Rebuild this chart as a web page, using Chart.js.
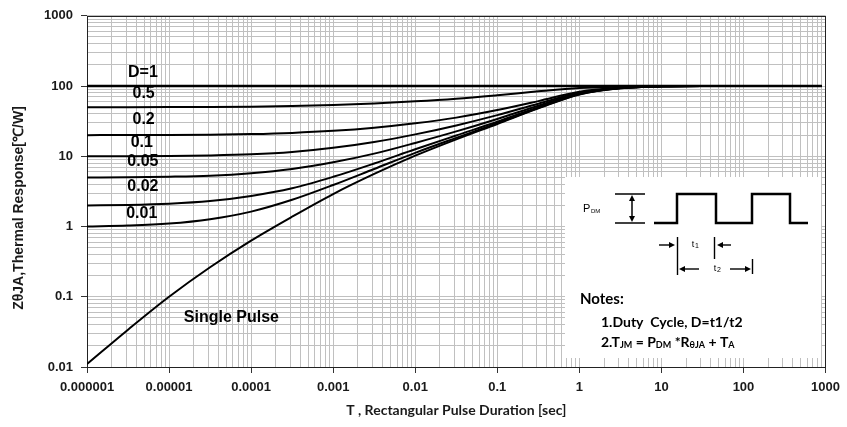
<!DOCTYPE html>
<html><head><meta charset="utf-8">
<script src="https://cdn.jsdelivr.net/npm/chart.js@4.4.0/dist/chart.umd.min.js"></script>
<style>html,body{margin:0;padding:0;background:#fff}</style>
</head><body>
<canvas id="c" width="847" height="427"></canvas>
<script>
// ---------- data ----------
const pulseDurations = [1e-6, 3.16e-6, 1e-5, 3.16e-5, 1e-4, 3.16e-4, 1e-3, 3.16e-3, 1e-2, 3.16e-2, 0.1, 0.316, 1, 3.16, 10, 31.6, 100, 316, 900];
const zD1     = [100, 100, 100, 100, 100, 100, 100, 100, 100, 100, 100, 100, 100, 100, 100, 100, 100, 100, 100];
const zD05    = [50, 50, 50.1, 50.3, 50.8, 51.8, 53.5, 56.5, 60.5, 66, 74, 84, 93.5, 98, 99.7, 100, 100, 100, 100];
const zD02    = [20, 20.03, 20.1, 20.3, 20.7, 21.5, 23, 25.5, 29.5, 35.5, 45.5, 61, 83, 95, 99.3, 100, 100, 100, 100];
const zD01    = [10, 10.03, 10.1, 10.27, 10.65, 11.5, 13.2, 16, 20.5, 27.5, 38.5, 56, 80, 94, 99.2, 100, 100, 100, 100];
const zD005   = [5, 5.03, 5.12, 5.3, 5.75, 6.6, 8.2, 10.9, 15.5, 22.6, 34, 52.5, 78.5, 93.8, 99, 100, 100, 100, 100];
const zD002   = [2, 2.03, 2.11, 2.3, 2.72, 3.5, 5.1, 7.9, 12.6, 19.8, 31, 50, 77.5, 93.5, 99, 100, 100, 100, 100];
const zD001   = [1, 1.03, 1.1, 1.27, 1.63, 2.4, 3.9, 6.6, 11.2, 18.3, 29.6, 48.7, 76.5, 93.1, 99, 100, 100, 100, 100];
const zSingle = [0.011, 0.034, 0.1, 0.263, 0.63, 1.38, 2.9, 5.6, 10.2, 17.4, 28.8, 48, 76, 93, 99, 100, 100, 100, 100];
const seriesNames = ['D=1', '0.5', '0.2', '0.1', '0.05', '0.02', '0.01', 'Single Pulse'];
const seriesValues = [zD1, zD05, zD02, zD01, zD005, zD002, zD001, zSingle];
const xTickLabels = ['0.000001', '0.00001', '0.0001', '0.001', '0.01', '0.1', '1', '10', '100', '1000'];
const yTickLabels = ['0.01', '0.1', '1', '10', '100', '1000'];
const xTitle = 'T , Rectangular Pulse Duration [sec]';
const yTitle = 'Z\u03B8JA,Thermal Response[\u2103/W]';

// ---------- helpers ----------
const X_MIN_EXP = -6, X_MAX_EXP = 3, Y_MIN_EXP = -2, Y_MAX_EXP = 3;
function logTicks(a, b) {
  const t = [];
  for (let e = a; e < b; e++) for (let m = 1; m < 10; m++) t.push({ value: Number((m * Math.pow(10, e)).toPrecision(6)) });
  t.push({ value: Math.pow(10, b) });
  return t;
}
function decadeIndex(v, minExp) {
  const e = Math.log10(v), r = Math.round(e);
  return Math.abs(e - r) < 1e-6 ? r - minExp : -1;
}
const ARIAL = "'Liberation Sans', Arial, sans-serif";
const CALIBRI = "Lato, 'Open Sans', sans-serif";

const datasets = seriesNames.map((name, i) => ({
  label: name,
  data: pulseDurations.map((t, k) => ({ x: t, y: seriesValues[i][k] })),
  borderColor: '#000',
  borderWidth: i === 0 ? 2.6 : 2,
  pointRadius: 0,
  fill: false,
  cubicInterpolationMode: 'monotone'
}));

function arrowHead(ctx, x, y, dir) {
  ctx.beginPath();
  const L = 6, W = 3;
  if (dir === 'r') { ctx.moveTo(x, y); ctx.lineTo(x - L, y - W); ctx.lineTo(x - L, y + W); }
  if (dir === 'l') { ctx.moveTo(x, y); ctx.lineTo(x + L, y - W); ctx.lineTo(x + L, y + W); }
  if (dir === 'u') { ctx.moveTo(x, y); ctx.lineTo(x - W, y + L); ctx.lineTo(x + W, y + L); }
  if (dir === 'd') { ctx.moveTo(x, y); ctx.lineTo(x - W, y - L); ctx.lineTo(x + W, y - L); }
  ctx.closePath(); ctx.fill();
}
function line(ctx, pts) {
  ctx.beginPath(); ctx.moveTo(pts[0][0], pts[0][1]);
  for (let i = 1; i < pts.length; i++) ctx.lineTo(pts[i][0], pts[i][1]);
  ctx.stroke();
}
function rich(ctx, parts, x, y, size) {
  let cx = x;
  parts.forEach(([txt, sub]) => {
    ctx.font = 'bold ' + (sub ? Math.round(size * 0.65) : size) + 'px ' + CALIBRI;
    ctx.fillText(txt, cx, sub ? y + 3 : y);
    cx += ctx.measureText(txt).width;
  });
}

const annotations = {
  id: 'annotations',
  beforeDatasetsDraw(chart) {
    const { ctx, chartArea: ca } = chart;
    ctx.save();
    const bx = Math.round(ca.right) - 261, by = Math.round(ca.top) + 161;
    const bw = 256, bh = Math.round(ca.bottom) - 9 - by;
    ctx.fillStyle = '#fff';
    ctx.fillRect(bx, by, bw, bh);
    ctx.strokeStyle = '#222'; ctx.lineWidth = 1;
    ctx.strokeRect(Math.round(ca.left) + 0.5, Math.round(ca.top) + 0.5, Math.round(ca.right - ca.left) - 1, Math.round(ca.bottom - ca.top));

    ctx.strokeStyle = '#000'; ctx.fillStyle = '#000';
    ctx.lineWidth = 1.5;
    line(ctx, [[bx + 50, by + 17], [bx + 80, by + 17]]);
    line(ctx, [[bx + 50, by + 46], [bx + 80, by + 46]]);
    line(ctx, [[bx + 67, by + 20], [bx + 67, by + 43]]);
    arrowHead(ctx, bx + 67, by + 18, 'u');
    arrowHead(ctx, bx + 67, by + 45, 'd');
    ctx.textBaseline = 'middle'; ctx.textAlign = 'left';
    ctx.font = '11px ' + ARIAL;
    ctx.fillText('P', bx + 18, by + 32);
    ctx.font = '6px ' + ARIAL;
    ctx.fillText('DM', bx + 26, by + 34);
    ctx.lineWidth = 2.5;
    line(ctx, [[bx + 89, by + 46], [bx + 112, by + 46], [bx + 112, by + 17], [bx + 151, by + 17], [bx + 151, by + 46],
               [bx + 187, by + 46], [bx + 187, by + 17], [bx + 225, by + 17], [bx + 225, by + 46], [bx + 243, by + 46]]);
    ctx.lineWidth = 1.4;
    line(ctx, [[bx + 112.5, by + 60], [bx + 112.5, by + 98]]);
    line(ctx, [[bx + 149.5, by + 60], [bx + 149.5, by + 82]]);
    line(ctx, [[bx + 94, by + 68], [bx + 104, by + 68]]); arrowHead(ctx, bx + 110, by + 68, 'r');
    line(ctx, [[bx + 158, by + 68], [bx + 166, by + 68]]); arrowHead(ctx, bx + 152, by + 68, 'l');
    line(ctx, [[bx + 187.5, by + 82], [bx + 187.5, by + 97]]);
    line(ctx, [[bx + 120, by + 92], [bx + 134, by + 92]]); arrowHead(ctx, bx + 114, by + 92, 'l');
    line(ctx, [[bx + 165, by + 92], [bx + 180, by + 92]]); arrowHead(ctx, bx + 186, by + 92, 'r');
    ctx.textAlign = 'center';
    ctx.font = '9px ' + ARIAL;
    ctx.fillText('t', bx + 128, by + 68); ctx.font = '7px ' + ARIAL; ctx.fillText('1', bx + 132, by + 69);
    ctx.font = '9px ' + ARIAL;
    ctx.fillText('t', bx + 150, by + 92); ctx.font = '7px ' + ARIAL; ctx.fillText('2', bx + 154, by + 93);
    ctx.textAlign = 'left';
    ctx.font = 'bold 15px ' + CALIBRI;
    ctx.fillText('Notes:', bx + 15, by + 122);
    rich(ctx, [['1.Duty  Cycle, D=t1/t2']], bx + 36, by + 145, 14);
    rich(ctx, [['2.T'], ['JM', 1], [' = P'], ['DM', 1], [' *R'], ['\u03B8JA', 1], [' + T'], ['A', 1]], bx + 36, by + 165, 14);
    ctx.restore();
  },
  afterDatasetsDraw(chart) {
    const { ctx, scales: { x, y } } = chart;
    const anchors = [[4.8e-6, 155], [4.9e-6, 79], [4.9e-6, 33.5], [4.65e-6, 15.8], [4.8e-6, 8.3], [4.8e-6, 3.67], [4.65e-6, 1.54], [5.75e-5, 0.051]];
    ctx.save();
    ctx.fillStyle = '#000';
    ctx.font = 'bold 16px ' + ARIAL;
    ctx.textAlign = 'center'; ctx.textBaseline = 'middle';
    seriesNames.forEach((n, i) => {
      ctx.fillText(n, x.getPixelForValue(anchors[i][0]), y.getPixelForValue(anchors[i][1]));
    });
    ctx.restore();
  }
};

const yTitlePlugin = {
  id: 'yTitle',
  afterDraw(chart) {
    const { ctx } = chart;
    ctx.save();
    ctx.translate(19, 208);
    ctx.rotate(-Math.PI / 2);
    ctx.fillStyle = '#1a1a1a';
    ctx.font = 'bold 14px ' + ARIAL;
    ctx.textAlign = 'center'; ctx.textBaseline = 'middle';
    ctx.fillText(yTitle, 0, 0);
    ctx.restore();
  }
};

new Chart(document.getElementById('c'), {
  type: 'line',
  data: { datasets },
  plugins: [annotations, yTitlePlugin],
  options: {
    responsive: false,
    animation: false,
    devicePixelRatio: 1,
    layout: { padding: { left: 0, top: 14, right: 19, bottom: 0 } },
    plugins: { legend: { display: false }, tooltip: { enabled: false } },
    scales: {
      x: {
        type: 'logarithmic',
        min: 1e-6, max: 1000,
        afterBuildTicks: s => { s.ticks = logTicks(X_MIN_EXP, X_MAX_EXP); },
        afterFit: s => { s.height = 60; },
        border: { display: false },
        grid: {
          color: '#c0c0c0', lineWidth: 1, tickLength: 6,
          tickColor: c => (c.tick && decadeIndex(c.tick.value, X_MIN_EXP) >= 0) ? '#333' : 'rgba(0,0,0,0)'
        },
        ticks: {
          autoSkip: false, maxRotation: 0, minRotation: 0, padding: 7,
          color: '#1a1a1a', font: { family: ARIAL, size: 13, weight: 'bold' },
          callback: v => { const i = decadeIndex(v, X_MIN_EXP); return i >= 0 ? xTickLabels[i] : ''; }
        },
        title: { display: true, text: xTitle, color: '#1a1a1a', font: { family: CALIBRI, size: 14, weight: 'bold' }, padding: { top: 0, bottom: 8 } }
      },
      y: {
        type: 'logarithmic',
        min: 0.01, max: 1000,
        afterBuildTicks: s => { s.ticks = logTicks(Y_MIN_EXP, Y_MAX_EXP); },
        afterFit: s => { s.width = 87; },
        border: { display: false },
        grid: {
          color: '#c0c0c0', lineWidth: 1, tickLength: 6,
          tickColor: c => (c.tick && decadeIndex(c.tick.value, Y_MIN_EXP) >= 0) ? '#333' : 'rgba(0,0,0,0)'
        },
        ticks: {
          autoSkip: false, padding: 8,
          color: '#1a1a1a', font: { family: ARIAL, size: 13, weight: 'bold' },
          callback: v => { const i = decadeIndex(v, Y_MIN_EXP); return i >= 0 ? yTickLabels[i] : ''; }
        }
      }
    }
  }
});
</script>
</body></html>
